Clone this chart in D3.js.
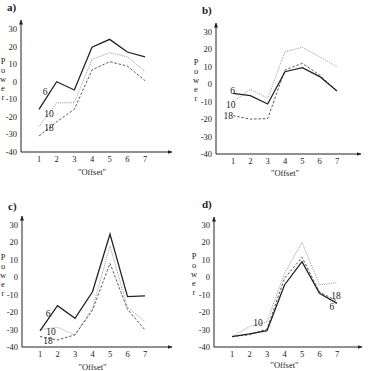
<!DOCTYPE html>
<html>
<head>
<meta charset="utf-8">
<script src="https://cdn.jsdelivr.net/npm/d3@7/dist/d3.min.js"></script>
<style>
	body { margin: 0; background: #fff; }
	svg { display: block; }
	text { font-family: "Liberation Serif", "DejaVu Serif", serif; fill: #222; }
</style>
</head>
<body>
<svg id="chart" width="368" height="371"></svg>
<script>
// data
var offsets = [1, 2, 3, 4, 5, 6, 7];
var powerTicks = [30, 20, 10, 0, -10, -20, -30, -40];
var seriesNames = ["6", "10", "18"];

var a6  = [-15.7, 0, -4.7, 19.6, 24.1, 16.9, 14.2];
var a10 = [-25.6, -12, -12, 12.7, 16.5, 14.2, 5.7];
var a18 = [-30.9, -22.8, -15.7, 6.7, 11.4, 8.9, 0.6];

var b6  = [-5.2, -6.5, -11.3, 7.2, 9.5, 4.4, -3.9];
var b10 = [-10, -2.9, -8, 18.7, 21.2, 15.8, 10];
var b18 = [-18, -20, -19.7, 8.2, 12, 5.3, -4];

var c6  = [-30.8, -16.3, -23.5, -8.3, 24.8, -11.1, -10.7];
var c10 = [-30, -28.7, -33.1, -17.8, 18, -17.2, -25.5];
var c18 = [-34, -36, -33, -18.8, 8, -18.4, -30.2];

var d6  = [-34, -32.5, -30.6, -4.4, 9, -9.2, -15];
var d10 = [-34, -28.3, -25.5, 2.3, 20, -4.4, -3];
var d18 = [-34, -33, -29.7, -0.6, 11.5, -8.5, -13.6];

// series label anchors, in data units [offset, power]
var aLabels = [[1.34, -5.9], [1.57, -18.4], [1.57, -26.3]];
var bLabels = [[0.98, -3.8], [0.87, -11.5], [0.73, -18]];
var cLabels = [[1.46, -21.1], [1.63, -31.4], [1.46, -36.6]];
var dLabels = [[6.71, -17], [2.49, -26.2], [6.94, -10.7]];

var svg = d3.select("#chart");

var styles = {
	"6":  { stroke: "#222", width: 1.3, dash: null },
	"10": { stroke: "#9a9a9a", width: 0.9, dash: "1.2,1" },
	"18": { stroke: "#444", width: 0.9, dash: "2.5,1.8" }
};

// panel geometry (pixels)
var panels = [
	{ name: "a)", tx: 7,   ty: 11,  ax: 21,  top: 20,  y30: 29,  y40: 152, x1: 39,  x7: 145, xend: 172, px: 3,   py: 61,  oy: 175, series: [a6, a10, a18], labels: aLabels },
	{ name: "b)", tx: 202, ty: 14,  ax: 216, top: 23,  y30: 32,  y40: 154, x1: 233, x7: 337, xend: 361, px: 196, py: 62,  oy: 176, series: [b6, b10, b18], labels: bLabels },
	{ name: "c)", tx: 8,   ty: 210, ax: 22,  top: 216, y30: 225, y40: 347, x1: 40,  x7: 145, xend: 172, px: 3,   py: 257, oy: 370, series: [c6, c10, c18], labels: cLabels },
	{ name: "d)", tx: 202, ty: 208, ax: 214, top: 217, y30: 225, y40: 347, x1: 232, x7: 337, xend: 362, px: 194, py: 256, oy: 368, series: [d6, d10, d18], labels: dLabels }
];

svg.append("defs").append("marker")
	.attr("id", "arrow")
	.attr("viewBox", "0 0 10 10")
	.attr("refX", 9).attr("refY", 5)
	.attr("markerWidth", 5).attr("markerHeight", 5)
	.attr("orient", "auto")
	.append("path")
	.attr("d", "M0,1 L10,5 L0,9 z")
	.attr("fill", "#222");

panels.forEach(function(p) {
	var g = svg.append("g");

	var x = d3.scaleLinear().domain([1, 7]).range([p.x1, p.x7]);
	var y = d3.scaleLinear().domain([-40, 30]).range([p.y40, p.y30]);

	// axes
	g.append("line")
		.attr("x1", p.ax).attr("y1", p.y40)
		.attr("x2", p.ax).attr("y2", p.top)
		.attr("stroke", "#222").attr("stroke-width", 1)
		.attr("marker-end", "url(#arrow)");
	g.append("line")
		.attr("x1", p.ax).attr("y1", p.y40)
		.attr("x2", p.xend).attr("y2", p.y40)
		.attr("stroke", "#222").attr("stroke-width", 1)
		.attr("marker-end", "url(#arrow)");

	g.selectAll(".ytick")
		.data(powerTicks)
		.enter()
		.append("text")
		.attr("class", "ytick")
		.attr("x", p.ax - 4)
		.attr("y", function(d) { return y(d); })
		.attr("dy", "0.35em")
		.attr("text-anchor", "end")
		.attr("font-size", "8.5px")
		.text(function(d) { return d; });

	g.selectAll(".xtick")
		.data(offsets)
		.enter()
		.append("text")
		.attr("class", "xtick")
		.attr("x", function(d) { return x(d); })
		.attr("y", p.y40 + 10)
		.attr("text-anchor", "middle")
		.attr("font-size", "8.5px")
		.text(function(d) { return d; });

	g.append("text")
		.attr("x", (p.x1 + p.x7) / 2)
		.attr("y", p.oy)
		.attr("text-anchor", "middle")
		.attr("font-size", "8.5px")
		.text('"Offset"');

	g.selectAll(".ylab")
		.data("Power".split(""))
		.enter()
		.append("text")
		.attr("class", "ylab")
		.attr("x", p.px)
		.attr("y", function(d, i) { return p.py + i * 9; })
		.attr("dy", "0.35em")
		.attr("text-anchor", "middle")
		.attr("font-size", "8.5px")
		.text(function(d) { return d; });

	g.append("text")
		.attr("x", p.tx)
		.attr("y", p.ty)
		.attr("font-size", "11px")
		.attr("font-weight", "bold")
		.text(p.name);

	var line = d3.line()
		.x(function(d, i) { return x(offsets[i]); })
		.y(function(d) { return y(d); });

	// draw the lighter ones first so the solid sits on top
	[1, 2, 0].forEach(function(k) {
		var s = styles[seriesNames[k]];
		g.append("path")
			.datum(p.series[k])
			.attr("d", line)
			.attr("fill", "none")
			.attr("stroke", s.stroke)
			.attr("stroke-width", s.width)
			.attr("stroke-dasharray", s.dash);
	});

	g.selectAll(".slab")
		.data(p.labels)
		.enter()
		.append("text")
		.attr("class", "slab")
		.attr("x", function(d) { return x(d[0]); })
		.attr("y", function(d) { return y(d[1]); })
		.attr("dy", "0.35em")
		.attr("text-anchor", "middle")
		.attr("font-size", "9.5px")
		.text(function(d, i) { return seriesNames[i]; });
});
</script>
</body>
</html>
